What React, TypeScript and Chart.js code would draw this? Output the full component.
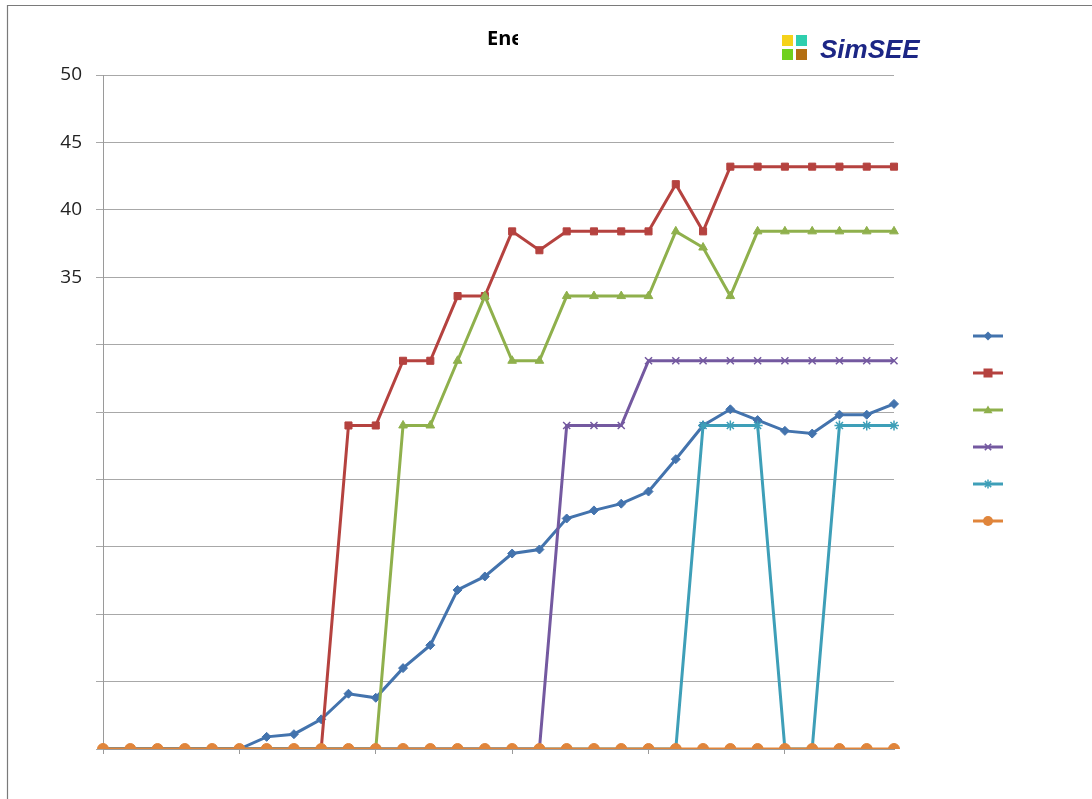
import React, { useEffect, useRef } from "react";
import { Chart, registerables } from "chart.js";

Chart.register(...registerables);

const categories: string[] = Array.from({ length: 30 }, (_, i) => String(i + 1));

const serieBlue: number[] = [0, 0, 0, 0, 0, 0, 0.9, 1.1, 2.2, 4.1, 3.8, 6.0, 7.7, 11.8, 12.8, 14.5, 14.8, 17.1, 17.7, 18.2, 19.1, 21.5, 24.0, 25.2, 24.4, 23.6, 23.4, 24.8, 24.8, 25.6];
const serieRed: number[] = [0, 0, 0, 0, 0, 0, 0, 0, 0, 24, 24, 28.8, 28.8, 33.6, 33.6, 38.4, 37.0, 38.4, 38.4, 38.4, 38.4, 41.9, 38.4, 43.2, 43.2, 43.2, 43.2, 43.2, 43.2, 43.2];
const serieGreen: number[] = [0, 0, 0, 0, 0, 0, 0, 0, 0, 0, 0, 24, 24, 28.8, 33.6, 28.8, 28.8, 33.6, 33.6, 33.6, 33.6, 38.4, 37.2, 33.6, 38.4, 38.4, 38.4, 38.4, 38.4, 38.4];
const seriePurple: number[] = [0, 0, 0, 0, 0, 0, 0, 0, 0, 0, 0, 0, 0, 0, 0, 0, 0, 24, 24, 24, 28.8, 28.8, 28.8, 28.8, 28.8, 28.8, 28.8, 28.8, 28.8, 28.8];
const serieCyan: number[] = [0, 0, 0, 0, 0, 0, 0, 0, 0, 0, 0, 0, 0, 0, 0, 0, 0, 0, 0, 0, 0, 0, 24, 24, 24, 0, 0, 24, 24, 24];
const serieOrange: number[] = [0, 0, 0, 0, 0, 0, 0, 0, 0, 0, 0, 0, 0, 0, 0, 0, 0, 0, 0, 0, 0, 0, 0, 0, 0, 0, 0, 0, 0, 0];

const yTickLabels: number[] = [50, 45, 40, 35];
const titleText = "Ene";
const logoText = "SimSEE";

const seriesDefs = [
  { data: serieBlue, color: "#4373ad", style: "rectRot", radius: 4.5 },
  { data: serieRed, color: "#b5423f", style: "rect", radius: 5 },
  { data: serieGreen, color: "#8fb04c", style: "triangle", radius: 5 },
  { data: seriePurple, color: "#7459a0", style: "crossRot", radius: 5 },
  { data: serieCyan, color: "#3e9fb8", style: "star", radius: 5 },
  { data: serieOrange, color: "#e0853b", style: "circle", radius: 5.5 },
];

function drawMarker(ctx: CanvasRenderingContext2D, style: string, x: number, y: number, r: number, color: string) {
  ctx.save();
  ctx.fillStyle = color;
  ctx.strokeStyle = color;
  ctx.lineWidth = 1.5;
  ctx.beginPath();
  if (style === "circle") {
    ctx.arc(x, y, r, 0, Math.PI * 2);
    ctx.fill();
  } else if (style === "rect") {
    ctx.fillRect(x - r, y - r, 2 * r, 2 * r);
  } else if (style === "rectRot") {
    ctx.moveTo(x, y - r);
    ctx.lineTo(x + r, y);
    ctx.lineTo(x, y + r);
    ctx.lineTo(x - r, y);
    ctx.closePath();
    ctx.fill();
  } else if (style === "triangle") {
    ctx.moveTo(x, y - r);
    ctx.lineTo(x + r, y + r * 0.7);
    ctx.lineTo(x - r, y + r * 0.7);
    ctx.closePath();
    ctx.fill();
  } else if (style === "crossRot") {
    ctx.moveTo(x - r * 0.7, y - r * 0.7);
    ctx.lineTo(x + r * 0.7, y + r * 0.7);
    ctx.moveTo(x + r * 0.7, y - r * 0.7);
    ctx.lineTo(x - r * 0.7, y + r * 0.7);
    ctx.stroke();
  } else if (style === "star") {
    ctx.moveTo(x - r * 0.7, y - r * 0.7);
    ctx.lineTo(x + r * 0.7, y + r * 0.7);
    ctx.moveTo(x + r * 0.7, y - r * 0.7);
    ctx.lineTo(x - r * 0.7, y + r * 0.7);
    ctx.moveTo(x, y - r);
    ctx.lineTo(x, y + r);
    ctx.stroke();
  }
  ctx.restore();
}

const decorPlugin = {
  id: "decor",
  afterDraw(chart: any) {
    const ctx: CanvasRenderingContext2D = chart.ctx;
    ctx.save();
    // frame
    ctx.strokeStyle = "#7a7a7a";
    ctx.lineWidth = 1.2;
    ctx.beginPath();
    ctx.moveTo(7, 5.5);
    ctx.lineTo(1092, 5.5);
    ctx.moveTo(7.5, 5);
    ctx.lineTo(7.5, 799);
    ctx.stroke();

    // title (clipped)
    ctx.save();
    ctx.beginPath();
    ctx.rect(400, 10, 118, 60);
    ctx.clip();
    ctx.fillStyle = "#000";
    ctx.font = "bold 20px 'Open Sans', sans-serif";
    ctx.textAlign = "left";
    ctx.textBaseline = "alphabetic";
    ctx.fillText(titleText, 487, 45);
    ctx.restore();

    // logo
    ctx.fillStyle = "#f5d21a";
    ctx.fillRect(782, 35, 11, 11);
    ctx.fillStyle = "#2fcfae";
    ctx.fillRect(796, 35, 11, 11);
    ctx.fillStyle = "#6fd11e";
    ctx.fillRect(782, 49, 11, 11);
    ctx.fillStyle = "#b36f13";
    ctx.fillRect(796, 49, 11, 11);
    ctx.fillStyle = "#1c2685";
    ctx.font = "italic bold 26px 'Liberation Sans', sans-serif";
    ctx.textBaseline = "alphabetic";
    ctx.fillText(logoText, 820, 58);

    // legend
    seriesDefs.forEach((s, i) => {
      const y = 336 + i * 37;
      ctx.strokeStyle = s.color;
      ctx.lineWidth = 3;
      ctx.beginPath();
      ctx.moveTo(973, y);
      ctx.lineTo(1003, y);
      ctx.stroke();
      drawMarker(ctx, s.style, 988, y, s.style === "circle" ? 5 : 4.5, s.color);
    });
    ctx.restore();
  },
};

export default function App() {
  const ref = useRef<HTMLCanvasElement | null>(null);

  useEffect(() => {
    if (!ref.current) return;
    const chart = new Chart(ref.current, {
      type: "line",
      data: {
        labels: categories,
        datasets: seriesDefs.map((s, i) => ({
          label: "",
          data: s.data,
          borderColor: s.color,
          backgroundColor: s.color,
          borderWidth: 3,
          pointStyle: s.style as any,
          pointRadius: s.radius,
          pointBorderWidth: s.style === "crossRot" || s.style === "star" ? 1.5 : 1,
          pointBackgroundColor: s.color,
          pointBorderColor: s.color,
          tension: 0,
          order: seriesDefs.length - i,
        })),
      },
      options: {
        responsive: false,
        animation: false,
        layout: { padding: { top: 75, right: 198, left: 0, bottom: 0 } },
        plugins: {
          legend: { display: false },
          title: { display: false },
          tooltip: { enabled: false },
        },
        scales: {
          x: {
            offset: false,
            grid: {
              display: true,
              drawOnChartArea: false,
              drawTicks: true,
              tickLength: 5,
              color: (c: any) => (c.index % 5 === 0 ? "#9a9a9a" : "rgba(0,0,0,0)"),
            },
            border: { display: true, color: "#9a9a9a", width: 1 },
            ticks: { display: false, autoSkip: false },
            afterFit: (s: any) => {
              s.height = 50;
            },
          },
          y: {
            min: 0,
            max: 50,
            ticks: {
              stepSize: 5,
              padding: 14,
              color: "#222",
              font: { family: "'Open Sans', sans-serif", size: 19 },
              callback: (v: any) => (yTickLabels.includes(Number(v)) ? String(v) : ""),
            },
            grid: { color: "#a8a8a8", lineWidth: 1, tickLength: 7 },
            border: { display: true, color: "#9a9a9a", width: 1 },
            afterFit: (s: any) => {
              s.width = 103;
            },
          },
        },
      },
      plugins: [decorPlugin],
    });
    return () => chart.destroy();
  }, []);

  return (
    <div style={{ position: "fixed", left: 0, top: 0, width: 1092, height: 799, background: "#fff" }}>
      <canvas ref={ref} width={1092} height={799} style={{ width: 1092, height: 799, display: "block" }} />
    </div>
  );
}
